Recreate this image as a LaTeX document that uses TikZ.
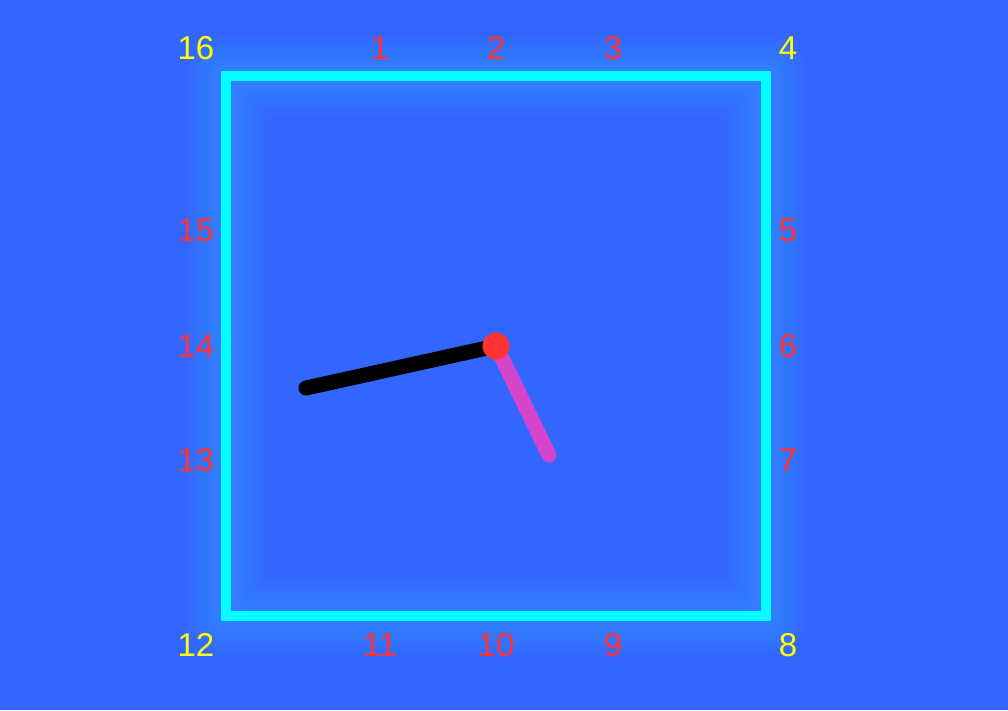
\documentclass[tikz,border=0pt]{standalone}
\usepackage{fontspec}
\setmainfont{Liberation Sans}
\definecolor{bg}{RGB}{51,102,255}
\definecolor{glowc}{RGB}{50,160,255}
\definecolor{rim}{RGB}{0,255,255}
\definecolor{lblred}{RGB}{255,51,51}
\definecolor{lblyel}{RGB}{255,255,0}
\definecolor{handm}{RGB}{214,68,204}
\definecolor{dotred}{RGB}{255,51,51}
\begin{document}
\begin{tikzpicture}[x=1pt,y=-1pt,
  corner/.style={text=lblyel,font=\fontsize{33}{33}\selectfont,inner sep=0pt},
  tick/.style={text=lblred,font=\fontsize{33}{33}\selectfont,inner sep=0pt},
  hand/.style={line width=15pt,line cap=round}]
\fill[bg] (0,0) rectangle (1008,710);
\useasboundingbox (0,0) rectangle (1008,710);
% glow
\foreach \w in {80,72,64,56,48,40,32,24,18}{
  \draw[glowc,line width=\w pt,opacity=0.07,line join=round] (226,76) rectangle (766,616);
}
\draw[rim,line width=10pt] (226,76) rectangle (766,616);
% labels
\node[corner] (l16) at (196,48) {16};
\node[tick] (l1) at (380,48) {1};
\node[tick] (l2) at (496,48) {2};
\node[tick] (l3) at (613,48) {3};
\node[corner] (l4) at (788,48) {4};
\node[tick] (l5) at (788,230) {5};
\node[tick] (l6) at (788,346) {6};
\node[tick] (l7) at (788,460) {7};
\node[corner] (l8) at (788,645) {8};
\node[tick] (l9) at (613,645) {9};
\node[tick] (l10) at (496,645) {10};
\node[tick] (l11) at (380,645) {11};
\node[corner] (l12) at (196,645) {12};
\node[tick] (l13) at (196,460) {13};
\node[tick] (l14) at (196,346) {14};
\node[tick] (l15) at (196,230) {15};
% hands
\coordinate (c) at (496,346);
\coordinate (hb) at (306,388);
\coordinate (hm) at (549,455);
\draw[hand,black] (c) -- (hb);
\draw[hand,handm] (c) -- (hm);
\node[circle,fill=dotred,minimum size=27pt,inner sep=0pt] (dot) at (c) {};
\end{tikzpicture}
\end{document}
